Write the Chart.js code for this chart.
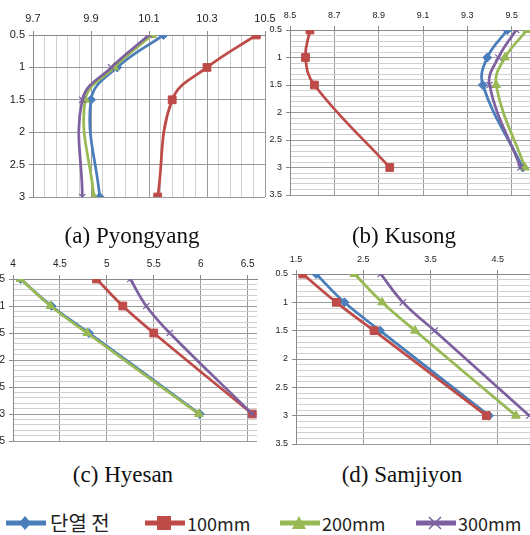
<!DOCTYPE html>
<html>
<head>
<meta charset="utf-8">
<script src="https://cdn.jsdelivr.net/npm/chart.js@4"></script>
<style>
    html, body { margin: 0; padding: 0; background: #fff; overflow: hidden; width: 530px; height: 535px; }
    body { position: relative; }
    .panel { position: absolute; }
    .cap { position: absolute; width: 260px; text-align: center; font-family: "Liberation Serif", "Times New Roman", serif; font-size: 23px; line-height: 26px; color: #111; }
    .leg { position: absolute; top: 511px; height: 24px; font-family: "Noto Sans CJK KR", sans-serif; font-size: 18px; line-height: 24px; color: #222; white-space: nowrap; }
    .leg svg { position: absolute; top: 4px; }
</style>
</head>
<body>
<div class="panel" style="left:0; top:0;"><canvas id="chartA" width="280" height="205"></canvas></div>
<div class="panel" style="left:265px; top:0;"><canvas id="chartB" width="300" height="205"></canvas></div>
<div class="panel" style="left:-12px; top:248px;"><canvas id="chartC" width="274" height="199"></canvas></div>
<div class="panel" style="left:265px; top:248px;"><canvas id="chartD" width="310" height="205"></canvas></div>

<div class="cap" style="left:2px; top:223px;">(a) Pyongyang</div>
<div class="cap" style="left:274px; top:223px;">(b) Kusong</div>
<div class="cap" style="left:-7px; top:462px;">(c) Hyesan</div>
<div class="cap" style="left:272px; top:462px;">(d) Samjiyon</div>

<div id="legend"></div>

<script>
// depth of each measurement (y axis)
const depth = [0.5, 1, 1.5, 3];
const seriesNames = ['단열 전', '100mm', '200mm', '300mm'];

// (a) Pyongyang
const pyongyang0   = [10.15, 9.99, 9.90, 9.93];
const pyongyang100 = [10.47, 10.30, 10.18, 10.13];
const pyongyang200 = [10.11, 9.98, 9.88, 9.91];
const pyongyang300 = [10.10, 9.97, 9.87, 9.87];

// (b) Kusong
const kusong0   = [9.48, 9.39, 9.37, 9.55];
const kusong100 = [8.59, 8.57, 8.61, 8.95];
const kusong200 = [9.57, 9.47, 9.43, 9.56];
const kusong300 = [9.52, 9.44, 9.40, 9.54];

// (c) Hyesan
const hyesan0   = [4.08, 4.41, 4.81, 5.99];
const hyesan100 = [4.89, 5.17, 5.50, 6.55];
const hyesan200 = [4.08, 4.40, 4.79, 5.98];
const hyesan300 = [5.25, 5.42, 5.67, 6.55];

// (d) Samjiyon
const samjiyon0   = [1.80, 2.22, 2.75, 4.37];
const samjiyon100 = [1.60, 2.10, 2.66, 4.33];
const samjiyon200 = [2.37, 2.78, 3.27, 4.77];
const samjiyon300 = [2.76, 3.09, 3.56, 4.97];

// tick labels
const xTicksA = [9.7, 9.9, 10.1, 10.3, 10.5];
const xTicksB = [8.5, 8.7, 8.9, 9.1, 9.3, 9.5, 9.7];
const xTicksC = [4, 4.5, 5, 5.5, 6, 6.5];
const xTicksD = [1.5, 2.5, 3.5, 4.5, 5.5];
const yTicksA = [0.5, 1, 1.5, 2, 2.5, 3];
const yTicksBCD = [0.5, 1, 1.5, 2, 2.5, 3, 3.5];

const colors = ['#4A7EBB', '#BE4B48', '#98B954', '#7D60A0'];
const markers = ['rectRot', 'rect', 'triangle', 'crossRot'];
const markerSize = [4.5, 5.5, 5, 4.5];

function isMajor(majors, v) {
    return majors.some(m => Math.abs(m - v) < 1e-6);
}

function buildTicks(majors, min, max, minor) {
    const out = [];
    if (!minor) return majors.filter(v => v >= min - 1e-9 && v <= max + 1e-9);
    for (let i = 0; min + i * minor <= max + 1e-9; i++) {
        out.push(+(min + i * minor).toFixed(4));
    }
    return out;
}

function axis(o) {
    const list = buildTicks(o.majors, o.min, o.max, o.minor);
    return {
        type: 'linear',
        position: o.pos,
        reverse: !!o.reverse,
        min: o.min,
        max: o.max,
        afterBuildTicks: s => { s.ticks = list.map(v => ({value: v})); },
        afterFit: s => {
            if (o.pos === 'top') s.height = o.size; else s.width = o.size;
            // keep the plot area fixed, labels may overflow
            s.paddingLeft = s.paddingRight = s.paddingTop = s.paddingBottom = 0;
        },
        border: {display: true, color: '#8a8a8a', width: 1},
        grid: {
            drawTicks: true,
            tickLength: 4,
            lineWidth: 1,
            color: c => isMajor(o.majors, c.tick.value) ? '#9a9a9a' : '#d0d0d0',
            tickColor: c => isMajor(o.majors, c.tick.value) ? '#8a8a8a' : 'rgba(0,0,0,0)'
        },
        ticks: {
            autoSkip: false,
            maxRotation: 0,
            padding: o.pos === 'top' ? 5 : 4,
            color: '#222',
            font: {family: '"Liberation Sans", Arial, sans-serif', size: o.font},
            callback: v => isMajor(o.majors, v) ? String(+(+v).toFixed(2)) : ''
        }
    };
}

function makePanel(id, values, x, y, pad) {
    const datasets = values.map((vals, i) => ({
        label: seriesNames[i],
        data: vals.map((v, k) => ({x: v, y: depth[k]})),
        showLine: true,
        tension: 0.4,
        borderColor: colors[i],
        backgroundColor: colors[i],
        borderWidth: 2.75,
        pointStyle: markers[i],
        pointRadius: markerSize[i],
        pointBorderColor: colors[i],
        pointBackgroundColor: colors[i],
        pointBorderWidth: i === 3 ? 1.2 : 1,
        order: 4 - i
    }));
    new Chart(document.getElementById(id), {
        type: 'scatter',
        data: {datasets: datasets},
        options: {
            responsive: false,
            animation: false,
            events: [],
            layout: {autoPadding: false, padding: {left: 0, top: 0, right: pad[0], bottom: pad[1]}},
            plugins: {legend: {display: false}, tooltip: {enabled: false}},
            scales: {x: axis(x), y: axis(y)}
        }
    });
}

makePanel('chartA', [pyongyang0, pyongyang100, pyongyang200, pyongyang300],
    {pos: 'top', min: 9.7, max: 10.5, majors: xTicksA, minor: 0.04, size: 35, font: 11},
    {pos: 'left', reverse: true, min: 0.5, max: 3, majors: yTicksA, minor: null, size: 33, font: 11},
    [15, 8]);

makePanel('chartB', [kusong0, kusong100, kusong200, kusong300],
    {pos: 'top', min: 8.5, max: 9.7, majors: xTicksB, minor: null, size: 30, font: 9},
    {pos: 'left', reverse: true, min: 0.5, max: 3.5, majors: yTicksBCD, minor: 0.1, size: 25, font: 9},
    [9, 10]);

makePanel('chartC', [hyesan0, hyesan100, hyesan200, hyesan300],
    {pos: 'top', min: 4, max: 6.6, majors: xTicksC, minor: null, size: 31, font: 10},
    {pos: 'left', reverse: true, min: 0.5, max: 3.5, majors: yTicksBCD, minor: 0.1, size: 25, font: 10},
    [5, 6]);

makePanel('chartD', [samjiyon0, samjiyon100, samjiyon200, samjiyon300],
    {pos: 'top', min: 1.5, max: 5.5, majors: xTicksD, minor: null, size: 26, font: 9},
    {pos: 'left', reverse: true, min: 0.5, max: 3.5, majors: yTicksBCD, minor: 0.1, size: 31, font: 9},
    [10, 9]);

// legend below the four panels
const legendIcon = [
    c => `<polygon points="20,1 26,8 20,15 14,8" fill="${c}"/>`,
    c => `<rect x="13" y="1" width="14" height="14" fill="${c}"/>`,
    c => `<polygon points="20,1 27,14 13,14" fill="${c}"/>`,
    c => `<path d="M14,2 L26,14 M26,2 L14,14" stroke="${c}" stroke-width="1.5"/>`
];
const legendX = [5, 144, 279, 415];
const legendEl = document.getElementById('legend');
seriesNames.forEach((name, i) => {
    const item = document.createElement('div');
    item.className = 'leg';
    item.style.left = legendX[i] + 'px';
    item.innerHTML = `<svg width="42" height="16"><line x1="1" y1="8" x2="41" y2="8" stroke="${colors[i]}" stroke-width="5"/>${legendIcon[i](colors[i])}</svg>` +
        `<span style="margin-left:${i === 0 ? 45 : 43}px;${i === 0 ? 'font-size:20px;' : ''}">${name}</span>`;
    legendEl.appendChild(item);
});
</script>
</body>
</html>
